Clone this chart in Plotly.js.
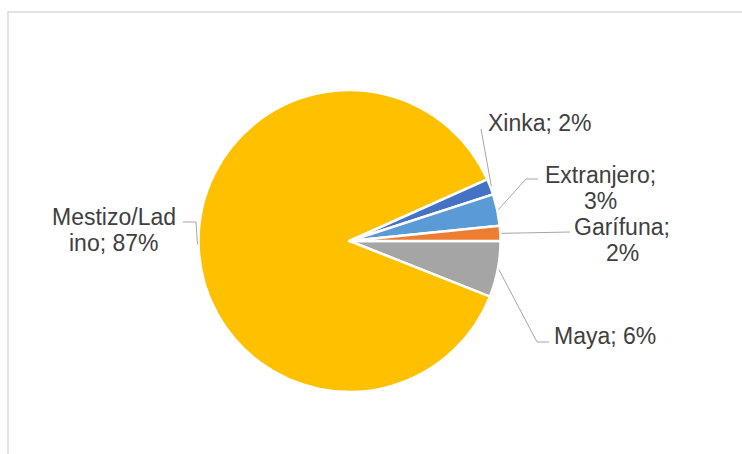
<!DOCTYPE html>
<html>
<head>
<meta charset="utf-8">
<script src="https://cdn.plot.ly/plotly-3.0.1.min.js"></script>
<style>html,body{margin:0;padding:0;background:#fff;}#chart{width:742px;height:454px;}</style>
</head>
<body>
<div id="chart"></div>
<script>
// ---- data ----
var categories = ["Maya", "Mestizo/Ladino", "Xinka", "Extranjero", "Garífuna"];
var values = [6.0, 87.3, 1.7, 3.4, 1.6];
var colors = ["#A5A5A5", "#FFC000", "#4472C4", "#5B9BD5", "#ED7D31"];

// ---- layout geometry (pixels) ----
var W = 742, H = 454;
var CX = 349.5, CY = 241, R = 151;
var LINE_GAP = 26;

// label placement: text centre, line breaks, and leader-line bend points (pixels)
var labelPlacement = {
  "Maya":           {x: 605, y: 336,   brk: null, path: [[537, 342], [549, 342]]},
  "Mestizo/Ladino": {x: 114, y: 229.5, brk: 11,   path: [[196, 222], [183, 222]]},
  "Xinka":          {x: 540, y: 123,   brk: null, path: [[481, 129]]},
  "Extranjero":     {x: 600, y: 187.5, brk: 11,   path: [[526, 179], [538, 179]]},
  "Garífuna":       {x: 622, y: 240,   brk: 9,    path: [[570, 232]]}
};

function px(x) { return x / W; }
function py(y) { return 1 - y / H; }

var total = values.reduce(function (a, b) { return a + b; }, 0);
var annotations = [];
var shapes = [{
  type: "rect", xref: "paper", yref: "paper",
  x0: px(8), x1: 1.02, y0: -0.02, y1: py(12),
  line: {color: "#D9D9D9", width: 1.5}, fillcolor: "rgba(0,0,0,0)", layer: "below"
}];

var a = 0; // start angle, degrees CCW from 3 o'clock; slices go clockwise
categories.forEach(function (cat, i) {
  var span = values[i] / total * 360;
  var mid = (a - span / 2) * Math.PI / 180;
  a -= span;
  var ex = CX + (R + 1) * Math.cos(mid);
  var ey = CY - (R + 1) * Math.sin(mid);
  var cfg = labelPlacement[cat];
  var txt = cat + "; " + Math.round(values[i] / total * 100) + "%";
  var lines = cfg.brk !== null ? [txt.slice(0, cfg.brk), txt.slice(cfg.brk).replace(/^ /, "")] : [txt];
  lines.forEach(function (ln, k) {
    annotations.push({
      xref: "paper", yref: "paper", x: px(cfg.x),
      y: py(cfg.y + (k - (lines.length - 1) / 2) * LINE_GAP),
      xanchor: "center", yanchor: "middle", showarrow: false, text: ln,
      align: "center",
      font: {family: "Liberation Sans, Arial, sans-serif", size: 23, color: "#404040"}
    });
  });
  var d = "M " + px(ex) + " " + py(ey);
  cfg.path.forEach(function (p) { d += " L " + px(p[0]) + " " + py(p[1]); });
  shapes.push({type: "path", xref: "paper", yref: "paper", path: d,
               line: {color: "#A6A6A6", width: 1}});
});

var trace = {
  type: "pie",
  labels: categories,
  values: values,
  sort: false,
  direction: "clockwise",
  rotation: 90,
  textinfo: "none",
  hoverinfo: "label+percent",
  marker: {colors: colors, line: {color: "#FFFFFF", width: 2.5}},
  domain: {x: [px(CX - R), px(CX + R)], y: [py(CY + R), py(CY - R)]},
  showlegend: false
};

var layout = {
  width: W, height: H,
  margin: {l: 0, r: 0, t: 0, b: 0},
  paper_bgcolor: "#FFFFFF",
  showlegend: false,
  annotations: annotations,
  shapes: shapes
};

Plotly.newPlot("chart", [trace], layout, {displayModeBar: false, staticPlot: true});
</script>
</body>
</html>
